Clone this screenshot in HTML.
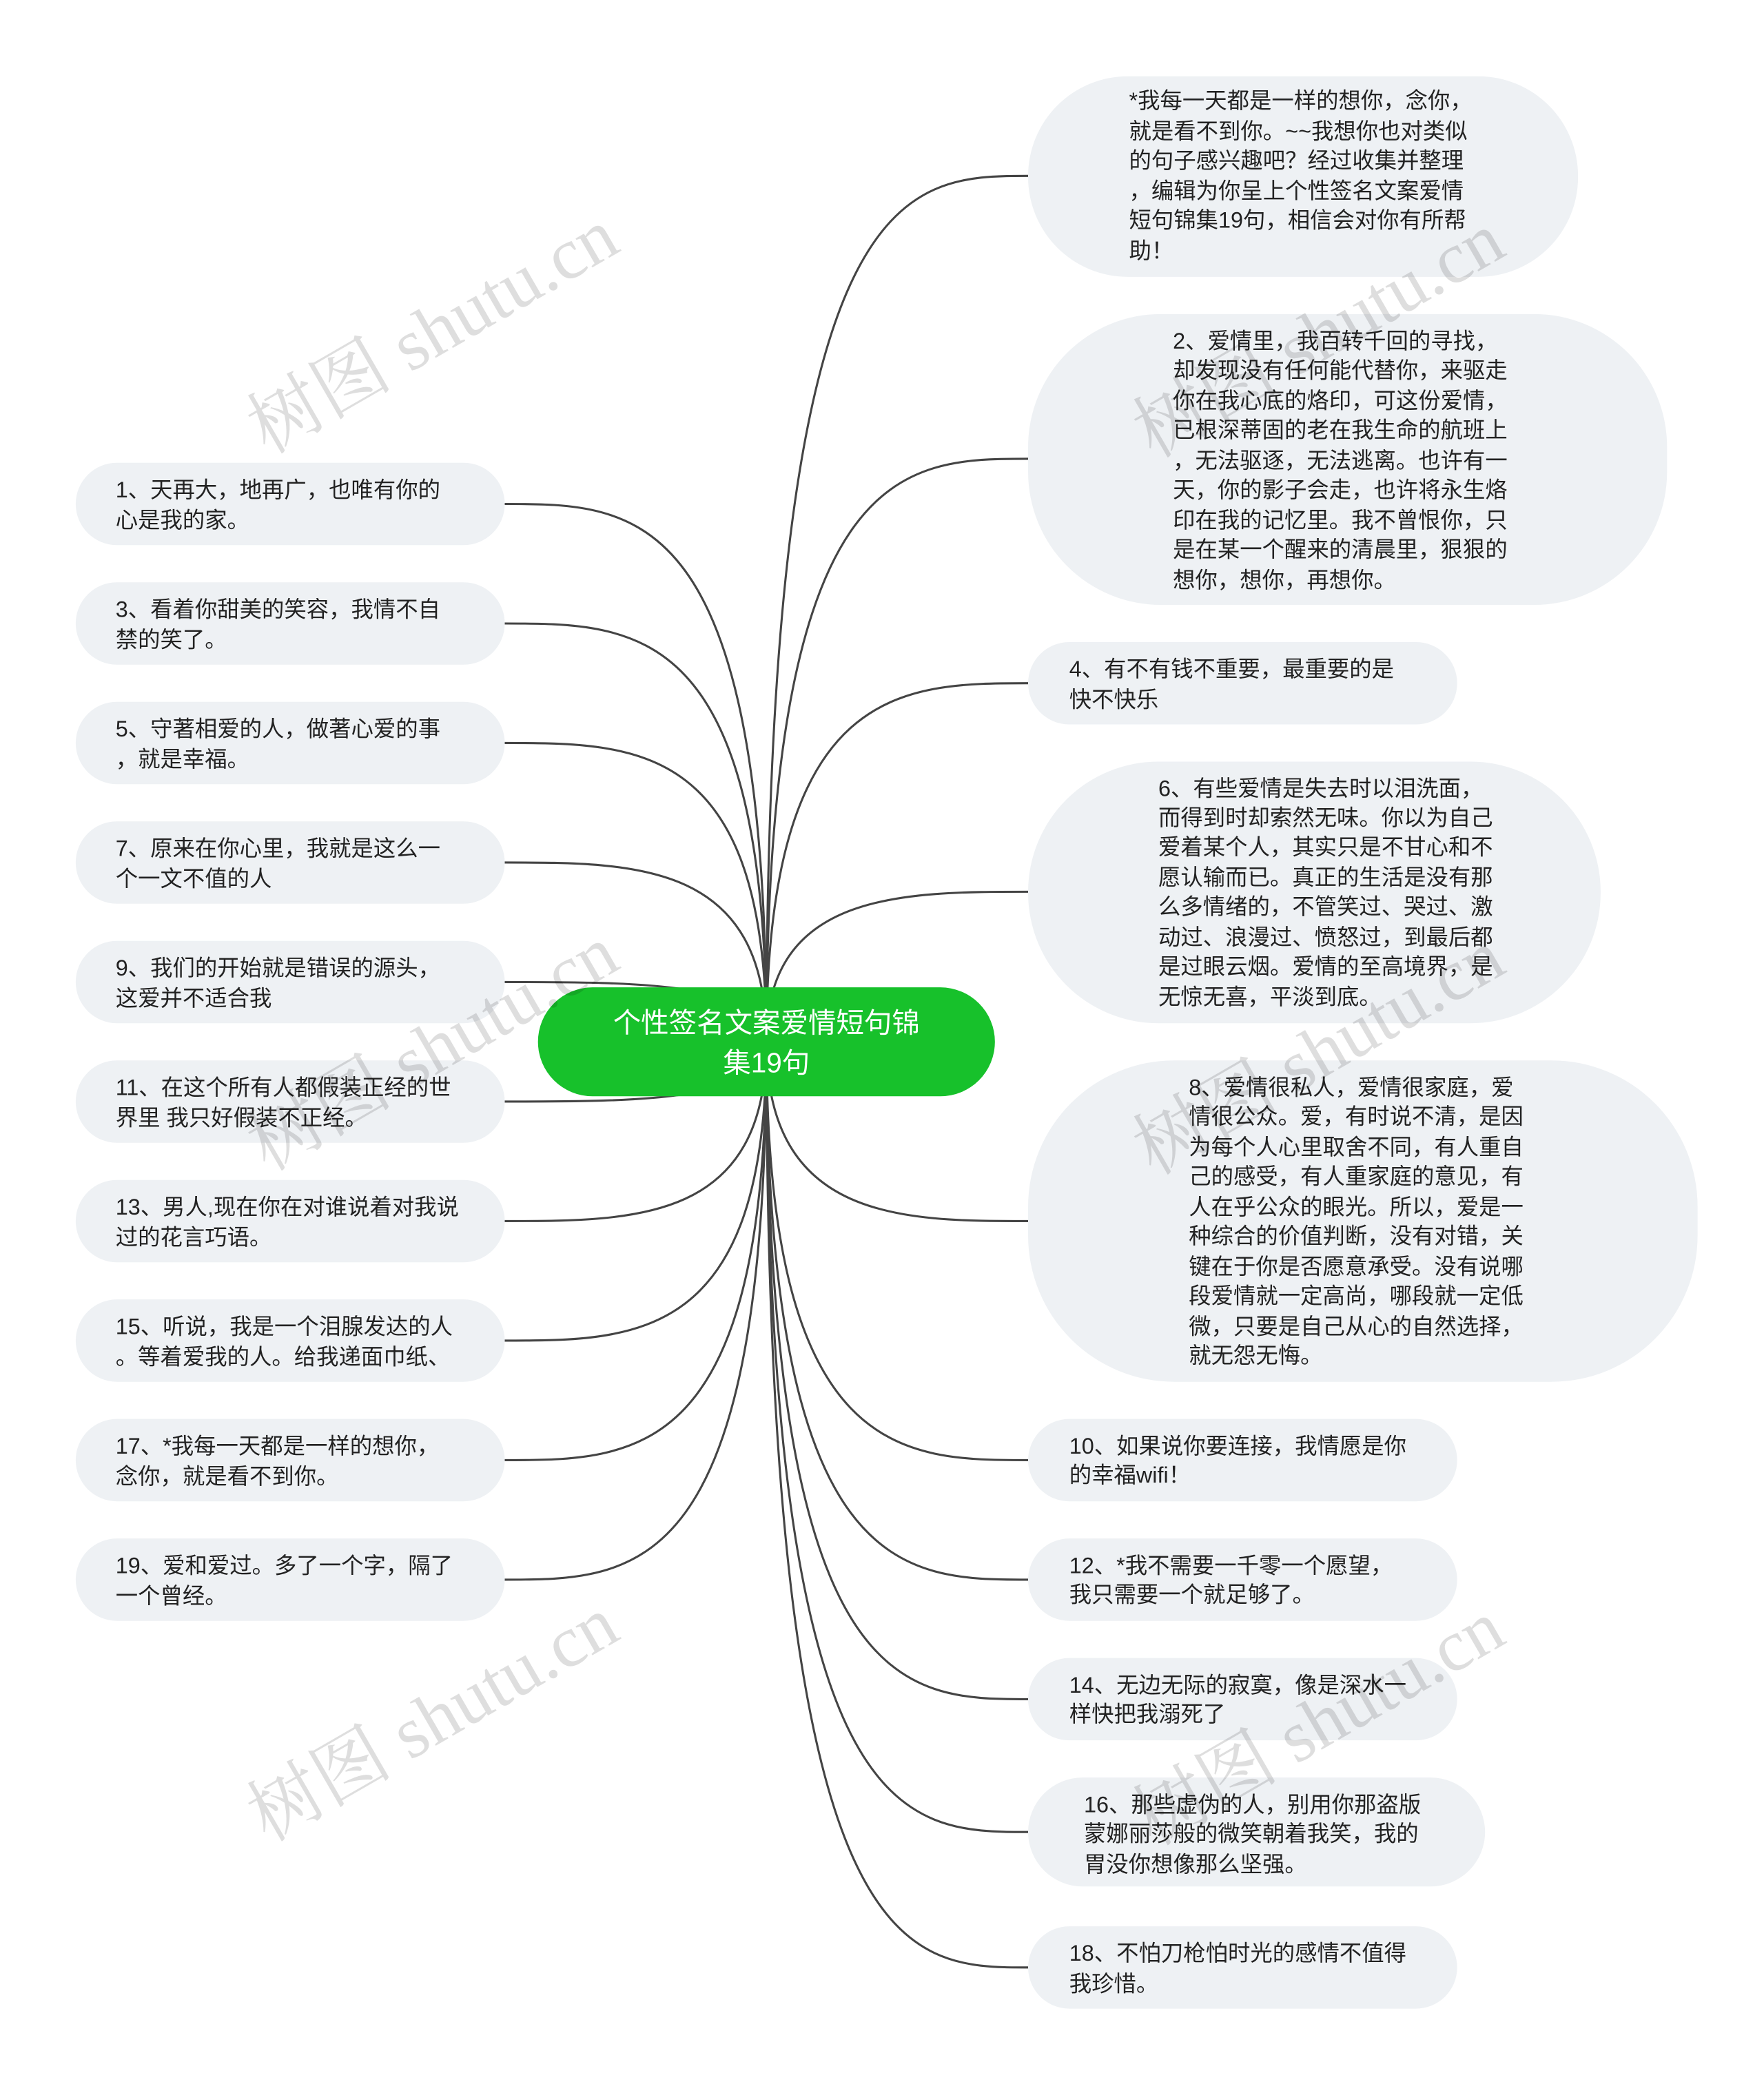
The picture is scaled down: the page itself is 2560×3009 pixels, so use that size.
<!DOCTYPE html>
<html><head><meta charset="utf-8"><style>
html,body{margin:0;padding:0;background:#fff;}
svg{display:block;}
.t text{font-family:"Liberation Sans","Noto Sans CJK SC",sans-serif;font-size:16.8px;fill:#222;}
.w text{font-family:"Liberation Serif","Noto Serif CJK SC",serif;font-size:55px;fill:#000;fill-opacity:0.13;}
</style></head><body>
<svg width="2560" height="3009" viewBox="0 0 1328 1560" xmlns="http://www.w3.org/2000/svg">
<g fill="none" stroke="#444" stroke-width="1.6">
<path d="M577 784 C577 379,480 379,380 379"/>
<path d="M577 784 C577 469,480 469,380 469"/>
<path d="M577 784 C577 559,480 559,380 559"/>
<path d="M577 784 C577 649,480 649,380 649"/>
<path d="M577 784 C577 739,480 739,380 739"/>
<path d="M577 784 C577 829,480 829,380 829"/>
<path d="M577 784 C577 919,480 919,380 919"/>
<path d="M577 784 C577 1009,480 1009,380 1009"/>
<path d="M577 784 C577 1099,480 1099,380 1099"/>
<path d="M577 784 C577 1189,480 1189,380 1189"/>
<path d="M577 784 C577 132,680 132,774 132"/>
<path d="M577 784 C577 345,680 345,774 345"/>
<path d="M577 784 C577 514,680 514,774 514"/>
<path d="M577 784 C577 671,680 671,774 671"/>
<path d="M577 784 C577 919,680 919,774 919"/>
<path d="M577 784 C577 1099,680 1099,774 1099"/>
<path d="M577 784 C577 1189,680 1189,774 1189"/>
<path d="M577 784 C577 1279,680 1279,774 1279"/>
<path d="M577 784 C577 1379,680 1379,774 1379"/>
<path d="M577 784 C577 1481,680 1481,774 1481"/>
</g>
<g fill="#eef1f4">
<rect x="57" y="348" width="323" height="62" rx="31"/>
<rect x="57" y="438" width="323" height="62" rx="31"/>
<rect x="57" y="528" width="323" height="62" rx="31"/>
<rect x="57" y="618" width="323" height="62" rx="31"/>
<rect x="57" y="708" width="323" height="62" rx="31"/>
<rect x="57" y="798" width="323" height="62" rx="31"/>
<rect x="57" y="888" width="323" height="62" rx="31"/>
<rect x="57" y="978" width="323" height="62" rx="31"/>
<rect x="57" y="1068" width="323" height="62" rx="31"/>
<rect x="57" y="1158" width="323" height="62" rx="31"/>
<rect x="774" y="57" width="414" height="151" rx="75"/>
<rect x="774" y="236" width="481" height="219" rx="100"/>
<rect x="774" y="483" width="323" height="62" rx="31"/>
<rect x="774" y="573" width="431" height="197" rx="98"/>
<rect x="774" y="798" width="504" height="242" rx="110"/>
<rect x="774" y="1068" width="323" height="62" rx="31"/>
<rect x="774" y="1158" width="323" height="62" rx="31"/>
<rect x="774" y="1248" width="323" height="62" rx="31"/>
<rect x="774" y="1338" width="344" height="82" rx="41"/>
<rect x="774" y="1450" width="323" height="62" rx="31"/>
</g>
<rect x="405" y="743" width="344" height="82" rx="41" fill="#17c12b"/>
<text x="577" y="777" text-anchor="middle" font-size="21" fill="#fff" font-family="Liberation Sans, Noto Sans CJK SC, sans-serif">个性签名文案爱情短句锦</text>
<text x="577" y="807" text-anchor="middle" font-size="21" fill="#fff" font-family="Liberation Sans, Noto Sans CJK SC, sans-serif">集19句</text>
<g class="t">
<text x="87" y="374">1、天再大，地再广，也唯有你的</text><text x="87" y="397">心是我的家。</text>
<text x="87" y="464">3、看着你甜美的笑容，我情不自</text><text x="87" y="487">禁的笑了。</text>
<text x="87" y="554">5、守著相爱的人，做著心爱的事</text><text x="87" y="577">，就是幸福。</text>
<text x="87" y="644">7、原来在你心里，我就是这么一</text><text x="87" y="667">个一文不值的人</text>
<text x="87" y="734">9、我们的开始就是错误的源头，</text><text x="87" y="757">这爱并不适合我</text>
<text x="87" y="824">11、在这个所有人都假装正经的世</text><text x="87" y="847">界里 我只好假装不正经。</text>
<text x="87" y="914">13、男人,现在你在对谁说着对我说</text><text x="87" y="937">过的花言巧语。</text>
<text x="87" y="1004">15、听说，我是一个泪腺发达的人</text><text x="87" y="1027">。等着爱我的人。给我递面巾纸、</text>
<text x="87" y="1094">17、*我每一天都是一样的想你，</text><text x="87" y="1117">念你，就是看不到你。</text>
<text x="87" y="1184">19、爱和爱过。多了一个字，隔了</text><text x="87" y="1207">一个曾经。</text>

<text x="850" y="81">*我每一天都是一样的想你，念你，</text>
<text x="850" y="104">就是看不到你。~~我想你也对类似</text>
<text x="850" y="126">的句子感兴趣吧？经过收集并整理</text>
<text x="850" y="149">，编辑为你呈上个性签名文案爱情</text>
<text x="850" y="171">短句锦集19句，相信会对你有所帮</text>
<text x="850" y="194">助！</text>

<text x="883" y="262">2、爱情里，我百转千回的寻找，</text>
<text x="883" y="284">却发现没有任何能代替你，来驱走</text>
<text x="883" y="307">你在我心底的烙印，可这份爱情，</text>
<text x="883" y="329">已根深蒂固的老在我生命的航班上</text>
<text x="883" y="352">，无法驱逐，无法逃离。也许有一</text>
<text x="883" y="374">天，你的影子会走，也许将永生烙</text>
<text x="883" y="397">印在我的记忆里。我不曾恨你，只</text>
<text x="883" y="419">是在某一个醒来的清晨里，狠狠的</text>
<text x="883" y="442">想你，想你，再想你。</text>

<text x="805" y="509">4、有不有钱不重要，最重要的是</text><text x="805" y="532">快不快乐</text>

<text x="872" y="599">6、有些爱情是失去时以泪洗面，</text>
<text x="872" y="621">而得到时却索然无味。你以为自己</text>
<text x="872" y="643">爱着某个人，其实只是不甘心和不</text>
<text x="872" y="666">愿认输而已。真正的生活是没有那</text>
<text x="872" y="688">么多情绪的，不管笑过、哭过、激</text>
<text x="872" y="711">动过、浪漫过、愤怒过，到最后都</text>
<text x="872" y="733">是过眼云烟。爱情的至高境界，是</text>
<text x="872" y="756">无惊无喜，平淡到底。</text>

<text x="895" y="824">8、爱情很私人，爱情很家庭，爱</text>
<text x="895" y="846">情很公众。爱，有时说不清，是因</text>
<text x="895" y="869">为每个人心里取舍不同，有人重自</text>
<text x="895" y="891">己的感受，有人重家庭的意见，有</text>
<text x="895" y="914">人在乎公众的眼光。所以，爱是一</text>
<text x="895" y="936">种综合的价值判断，没有对错，关</text>
<text x="895" y="959">键在于你是否愿意承受。没有说哪</text>
<text x="895" y="981">段爱情就一定高尚，哪段就一定低</text>
<text x="895" y="1004">微，只要是自己从心的自然选择，</text>
<text x="895" y="1026">就无怨无悔。</text>

<text x="805" y="1094">10、如果说你要连接，我情愿是你</text><text x="805" y="1116">的幸福wifi！</text>
<text x="805" y="1184">12、*我不需要一千零一个愿望，</text><text x="805" y="1206">我只需要一个就足够了。</text>
<text x="805" y="1274">14、无边无际的寂寞，像是深水一</text><text x="805" y="1296">样快把我溺死了</text>
<text x="816" y="1364">16、那些虚伪的人，别用你那盗版</text><text x="816" y="1386">蒙娜丽莎般的微笑朝着我笑，我的</text><text x="816" y="1409">胃没你想像那么坚强。</text>
<text x="805" y="1476">18、不怕刀枪怕时光的感情不值得</text><text x="805" y="1499">我珍惜。</text>
</g>
<g class="w">
<text transform="translate(335,265) rotate(-30)" text-anchor="middle">树图 shutu.cn</text>
<text transform="translate(1002,268) rotate(-30)" text-anchor="middle">树图 shutu.cn</text>
<text transform="translate(335,805) rotate(-30)" text-anchor="middle">树图 shutu.cn</text>
<text transform="translate(1002,808) rotate(-30)" text-anchor="middle">树图 shutu.cn</text>
<text transform="translate(335,1310) rotate(-30)" text-anchor="middle">树图 shutu.cn</text>
<text transform="translate(1002,1313) rotate(-30)" text-anchor="middle">树图 shutu.cn</text>
</g>
</svg>
</body></html>
